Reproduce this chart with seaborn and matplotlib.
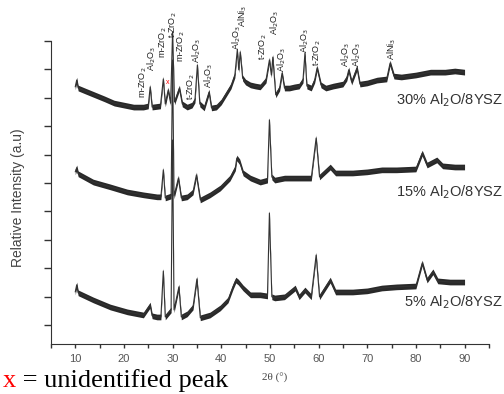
import pandas as pd
import seaborn as sns
import matplotlib.pyplot as plt
from matplotlib import transforms

# XRD patterns (intensity in arbitrary units, curves already offset)
two_theta_30 = [10, 10.3, 10.6, 12, 14, 16, 18, 20, 22, 24, 25.0, 25.4, 25.8, 27.5, 28.1, 28.5,
                29.1, 29.6, 30.0, 30.4, 31.4, 32, 33, 34, 34.6, 35.1, 35.6, 36.5, 37.5, 38, 39,
                40, 41, 42, 42.8, 43.3, 43.6, 43.9, 44.4, 45, 46, 47, 48, 49.2, 49.9, 50.3, 50.6,
                51.2, 52, 52.5, 53, 54, 55, 56, 56.8, 57.2, 57.6, 58.5, 59.2, 59.7, 60.5, 61.5,
                63, 65, 65.8, 66.2, 66.8, 67.9, 68.5, 70, 72, 74, 74.7, 75.5, 77, 80, 83, 86, 88, 90]
intensity_30 = [838, 862, 834, 824, 810, 796, 781, 774, 767, 767, 771, 838, 767, 771, 866, 778,
                827, 781, 1031, 785, 834, 778, 767, 774, 792, 915, 778, 764, 820, 764, 767,
                785, 813, 841, 880, 968, 898, 961, 869, 855, 845, 841, 838, 862, 933, 880, 943,
                810, 834, 887, 834, 834, 838, 841, 862, 957, 841, 834, 862, 905, 845, 834,
                841, 848, 869, 898, 855, 905, 848, 852, 862, 866, 922, 876, 873, 880, 890, 890, 894, 890]

two_theta_15 = [10, 10.3, 10.6, 13.7, 17.2, 20.7, 24, 26.8, 27.6, 28.1, 28.5, 29.7, 30.0, 30.3,
                31.2, 31.8, 33, 34.2, 34.9, 35.7, 37.7, 39.8, 41.8, 42.9, 43.2, 43.8, 44.5, 46,
                48, 49.5, 49.9, 50.4, 51, 53, 55, 58.5, 59.5, 60.2, 62.4, 63.5, 67, 70, 73, 76,
                80, 81.3, 82.3, 84.3, 85.5, 88, 90]
intensity_15 = [539, 553, 532, 503, 486, 468, 458, 451, 451, 546, 447, 454, 933, 454,
                517, 447, 451, 468, 528, 440, 458, 482, 517, 553, 588, 574, 535, 517,
                503, 510, 722, 521, 510, 517, 517, 517, 658, 521, 556, 535, 535, 539, 546, 546,
                549, 605, 563, 581, 560, 556, 556]

two_theta_5 = [10, 10.3, 10.6, 13.7, 17.2, 20.7, 24, 25.4, 25.8, 26.8, 27.6, 28.1, 28.5, 29.7,
               30.0, 30.3, 31.3, 31.8, 33, 34.2, 35.0, 35.7, 37.7, 39.8, 41.4, 42.4, 43.0, 43.5,
               44.5, 46, 48, 49.5, 49.9, 50.4, 51, 53, 55.2, 56, 57.2, 58.5, 59.5, 60.2, 62.4,
               63.5, 67, 70, 73, 76, 80, 81.3, 82.3, 83.5, 84.5, 87, 90]
intensity_5 = [116, 141, 113, 88, 63, 46, 35, 70, 32, 28, 28, 190, 28, 53,
               651, 53, 134, 28, 39, 63, 162, 25, 35, 60, 88, 134, 158, 151,
               130, 106, 106, 102, 394, 99, 95, 99, 130, 99, 123, 99, 246, 99, 158,
               116, 116, 120, 130, 134, 137, 218, 158, 187, 155, 151, 151]

samples = ['30% Al$_2$O/8YSZ', '15% Al$_2$O/8YSZ', '5% Al$_2$O/8YSZ']
label_levels = [792, 468, 81]

# phase assignments above the 30% pattern: (label, 2theta, bottom of text)
phase_labels = ['m-ZrO$_2$', 'Al$_2$O$_3$', 'm-ZrO$_2$', 't-ZrO$_2$', 'm-ZrO$_2$', 't-ZrO$_2$',
                'Al$_2$O$_3$', 'Al$_2$O$_3$', 'Al$_2$O$_3$', 'AlNi$_3$', 't-ZrO$_2$', 'Al$_2$O$_3$',
                'Al$_2$O$_3$', 'Al$_2$O$_3$', 't-ZrO$_2$', 'Al$_2$O$_3$', 'Al$_2$O$_3$', 'AlNi$_3$']
phase_pos = [24.0, 25.8, 28.1, 30.1, 31.8, 33.8, 35.0, 37.5, 43.1, 44.5, 48.6, 51.0,
             52.5, 57.2, 59.7, 65.6, 67.9, 75.1]
phase_base = [799, 894, 940, 1010, 926, 792, 922, 834, 968, 1049, 933, 1021,
              891, 957, 912, 908, 908, 933]

frames = []
for name, tt, inten in [(samples[0], two_theta_30, intensity_30),
                        (samples[1], two_theta_15, intensity_15),
                        (samples[2], two_theta_5, intensity_5)]:
    frames.append(pd.DataFrame({'two_theta': tt, 'intensity': inten, 'sample': name}))
data = pd.concat(frames)

sns.set_style('ticks')
plt.rcParams['font.family'] = ['Liberation Sans', 'DejaVu Sans']

fig = plt.figure(figsize=(5.04, 3.94), dpi=100)
ax = fig.add_axes([0.101, 0.127, 0.869, 0.873])

# noisy band look, then the trace itself
for name in samples:
    d = data[data['sample'] == name]
    ax.fill_between(d['two_theta'], d['intensity'] - 10, d['intensity'] + 10,
                    color='#111111', lw=0, alpha=0.9)
sns.lineplot(data=data, x='two_theta', y='intensity', hue='sample',
             palette=['#333333'] * 3, lw=0.8, legend=False, ax=ax, sort=False)

right_edge = transforms.blended_transform_factory(fig.transFigure, ax.transData)
for name, lev in zip(samples, label_levels):
    ax.text(503 / 504, lev, name, transform=right_edge, fontsize=10.5,
            color='#333333', ha='right', va='center', clip_on=False)

for lab, pos, base in zip(phase_labels, phase_pos, phase_base):
    ax.text(pos, base, lab, rotation=90, fontsize=6.5, ha='center', va='bottom',
            color='#222222', clip_on=False)
ax.text(28.9, 855, 'x', fontsize=5, color='red', ha='center', va='center')

ax.set_xlim(5, 95)
ax.set_ylim(-67, 1144)
ax.set_xticks(range(5, 100, 5))
ax.set_xticklabels([str(v) if v % 10 == 0 else '' for v in range(5, 100, 5)],
                   fontsize=8, color='#555555')
ax.set_yticks(range(0, 1001, 100))
ax.set_yticklabels([])
ax.tick_params(axis='x', direction='out', length=3, width=1, color='#333333', pad=4)
ax.tick_params(axis='y', direction='out', length=5, width=1, color='#333333')
ax.spines['top'].set_visible(False)
ax.spines['right'].set_visible(False)
ax.spines['left'].set_bounds(-67, 1000)
for s in ['left', 'bottom']:
    ax.spines[s].set_color('#333333')
ax.set_xlabel('')
ax.set_ylabel('')

fig.text(18 / 504, 1 - 198 / 394, 'Relative Intensity (a.u)', rotation=90, fontsize=10,
         color='#444444', ha='center', va='center')
fig.text(275 / 504, 1 - 378 / 394, '2\u03b8 (\u00b0)', fontsize=8, color='#444444',
         ha='center', va='center', family='Liberation Serif')

t_red = fig.text(3 / 504, 1 - 387 / 394, 'x', fontsize=19, color='red',
                 family='Liberation Serif', ha='left', va='baseline')
ax.annotate(' = unidentified peak', xy=(1, 0), xycoords=t_red, fontsize=19,
            family='Liberation Serif', color='black', ha='left', va='bottom',
            annotation_clip=False)

fig.savefig('out.png', dpi=100)
